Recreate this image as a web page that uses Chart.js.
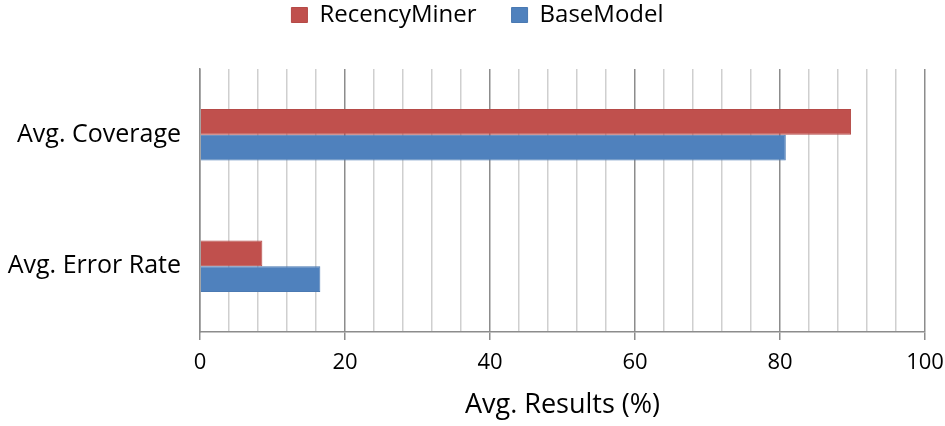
<!DOCTYPE html>
<html>
<head>
<meta charset="utf-8">
<script src="https://cdn.jsdelivr.net/npm/chart.js@4"></script>
<style>
  html, body { margin: 0; padding: 0; background: #fff; }
  #wrap { width: 945px; height: 426px; }
</style>
</head>
<body>
<div id="wrap"><canvas id="chart" width="945" height="426"></canvas></div>
<script>
const categories = ["Avg. Coverage", "Avg. Error Rate"];
const recencyMiner = [89.8, 8.6];
const baseModel = [80.8, 16.6];
const xTickLabels = [0, 20, 40, 60, 80, 100];

const font = "Open Sans";

// more room under the legend, and nudge it right a bit, like the original
const legendGap = {
  id: "legendGap",
  beforeUpdate(chart) {
    const legend = chart.legend;
    if (legend && !legend._gapPatched) {
      const origFit = legend.fit;
      legend.fit = function () {
        origFit.call(this);
        this.height += 32;
      };
      legend._gapPatched = true;
    }
  },
  afterLayout(chart) {
    if (chart.legend) {
      chart.legend.left += 15;
      chart.legend.right += 15;
    }
  },
};

document.addEventListener("DOMContentLoaded", function () {
  const ctx = document.getElementById("chart");

  new Chart(ctx, {
    type: "bar",
    data: {
      labels: categories,
      datasets: [
        {
          label: "RecencyMiner",
          data: recencyMiner,
          backgroundColor: "#C0504D",
          borderColor: "#B54A47",
          borderWidth: 1,
        },
        {
          label: "BaseModel",
          data: baseModel,
          backgroundColor: "#4F81BD",
          borderColor: "#4A79B2",
          borderWidth: 1,
        },
      ],
    },
    plugins: [legendGap],
    options: {
      indexAxis: "y",
      responsive: false,
      animation: false,
      layout: { padding: { top: -32, right: 20, left: 0, bottom: 0 } },
      datasets: {
        bar: { categoryPercentage: 0.39, barPercentage: 1.0 },
      },
      plugins: {
        tooltip: { enabled: false },
        legend: {
          position: "top",
          labels: {
            font: { family: font, size: 24 },
            color: "#000",
            boxWidth: 16,
            boxHeight: 15,
            padding: 35,
          },
        },
      },
      scales: {
        x: {
          min: 0,
          max: 100,
          ticks: {
            stepSize: 4,
            autoSkip: false,
            maxRotation: 0,
            color: "#000",
            font: { family: font, size: 22 },
            padding: 10,
            callback: (v) => (xTickLabels.includes(v) ? v : ""),
          },
          grid: {
            color: (c) => (c.tick && c.tick.value % 20 === 0 ? "#8c8c8c" : "#cfcfcf"),
            tickColor: (c) => (c.tick && c.tick.value % 20 === 0 ? "#8c8c8c" : "rgba(0,0,0,0)"),
            tickLength: 8,
            lineWidth: 1.5,
          },
          border: { color: "#8c8c8c", width: 1.5 },
          title: {
            display: true,
            text: "Avg. Results (%)",
            color: "#000",
            font: { family: font, size: 27 },
            padding: { top: 4, bottom: 4 },
          },
          afterFit: (scale) => {
            scale.height = 94;
            scale.paddingLeft = 0;
            scale.paddingRight = 0;
          },
        },
        y: {
          ticks: {
            color: "#000",
            font: { family: font, size: 25 },
            padding: 11,
          },
          grid: { display: false },
          border: { color: "#8c8c8c", width: 1.5 },
          afterFit: (scale) => {
            scale.width = 200;
          },
        },
      },
    },
  });
});
</script>
</body>
</html>
